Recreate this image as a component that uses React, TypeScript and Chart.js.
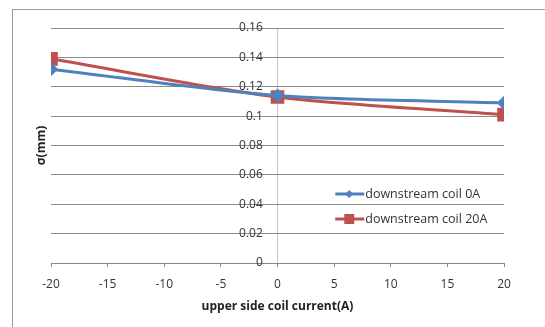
import React, { useEffect, useRef } from "react";
import { Chart, registerables } from "chart.js";

Chart.register(...registerables);

const xValues = [-20, 0, 20];
const series0A = [0.132, 0.114, 0.109];
const series20A = [0.139, 0.113, 0.101];
const seriesLabels = ["downstream coil 0A", "downstream coil 20A"];
const xTitle = "upper side coil current(A)";
const yTitle = "σ(mm)";

const FONT = "'Open Sans', 'Liberation Sans', sans-serif";

const legendPlugin = {
  id: "innerLegend",
  afterDraw(chart: any) {
    const ctx = chart.ctx;
    const xs = chart.scales.x;
    const ys = chart.scales.y;
    const left = xs.getPixelForValue(5.1);
    const rows = [ys.getPixelForValue(0.0473), ys.getPixelForValue(0.0297)];
    chart.data.datasets.forEach((ds: any, i: number) => {
      const y = Math.round(rows[i]);
      ctx.save();
      ctx.strokeStyle = ds.borderColor;
      ctx.lineWidth = 3;
      ctx.beginPath();
      ctx.moveTo(left, y);
      ctx.lineTo(left + 29, y);
      ctx.stroke();
      ctx.fillStyle = ds.backgroundColor;
      const cx = left + 14;
      if (ds.pointStyle === "rectRot") {
        ctx.beginPath();
        ctx.moveTo(cx, y - 4);
        ctx.lineTo(cx + 4, y);
        ctx.lineTo(cx, y + 4);
        ctx.lineTo(cx - 4, y);
        ctx.closePath();
        ctx.fill();
      } else {
        ctx.fillRect(cx - 5, y - 5, 10, 10);
      }
      ctx.fillStyle = "#333";
      ctx.font = `12.5px ${FONT}`;
      ctx.textAlign = "left";
      ctx.textBaseline = "middle";
      ctx.fillText(ds.label, left + 30, y);
      ctx.restore();
    });
  },
};

export default function App() {
  const ref = useRef<HTMLCanvasElement>(null);
  useEffect(() => {
    if (!ref.current) return;
    const chart = new Chart(ref.current, {
      type: "line",
      data: {
        datasets: [
          {
            label: seriesLabels[0],
            data: xValues.map((x, i) => ({ x, y: series0A[i] })),
            borderColor: "#4F81BD",
            backgroundColor: "#4F81BD",
            borderWidth: 3,
            pointStyle: "rectRot",
            pointRadius: 5,
            tension: 0.3,
          },
          {
            label: seriesLabels[1],
            data: xValues.map((x, i) => ({ x, y: series20A[i] })),
            borderColor: "#C0504D",
            backgroundColor: "#C0504D",
            borderWidth: 3,
            pointStyle: "rect",
            pointRadius: 7.5,
            tension: 0.3,
          },
        ],
      },
      options: {
        animation: false,
        responsive: false,
        layout: { padding: { left: 30, right: 41, top: 28, bottom: 0 } },
        plugins: { legend: { display: false }, tooltip: { enabled: false } },
        scales: {
          x: {
            type: "linear",
            position: "bottom",
            min: -20,
            max: 20,
            ticks: { stepSize: 5, color: "#333", font: { family: FONT, size: 12 }, padding: 10 },
            grid: {
              drawOnChartArea: true,
              drawTicks: true,
              tickLength: 4,
              tickColor: "#888",
              color: (c: any) => (c.tick && c.tick.value === 0 ? "#c8c8c8" : "rgba(0,0,0,0)"),
            },
            border: { color: "#888" },
            title: {
              display: true,
              text: xTitle,
              color: "#222",
              font: { family: FONT, size: 12, weight: "bold" },
              padding: { top: 4, bottom: 13 },
            },
            afterFit: (s: any) => {
              s.height = 64;
            },
          },
          y: {
            type: "linear",
            position: { x: -1.3 },
            min: 0,
            max: 0.16,
            ticks: {
              stepSize: 0.02,
              color: "#333",
              font: { family: FONT, size: 12 },
              callback: (v: any) => String(Math.round(Number(v) * 100) / 100),
            },
            grid: { color: "#8c8c8c", drawTicks: false },
            border: { display: false },
            afterFit: (s: any) => {
              s.width = 0;
            },
          },
          y2: {
            type: "linear",
            position: "left",
            ticks: { display: false },
            grid: { display: false, drawTicks: false },
            border: { display: false },
            title: {
              display: true,
              text: yTitle,
              color: "#222",
              font: { family: FONT, size: 12, weight: "bold" },
              padding: 4,
            },
            afterFit: (s: any) => {
              s.width = 21;
            },
          },
        },
      },
      plugins: [legendPlugin],
    } as any);
    return () => chart.destroy();
  }, []);
  return (
    <div style={{ position: "absolute", left: 0, top: 0, width: 545, height: 327, background: "#fff", overflow: "hidden" }}>
      <div
        style={{
          position: "absolute",
          left: 12,
          top: 9,
          width: 560,
          height: 340,
          border: "1px solid #9a9a9a",
          boxSizing: "border-box",
        }}
      />
      <canvas ref={ref} width={545} height={327} style={{ position: "absolute", left: 0, top: 0 }} />
    </div>
  );
}
